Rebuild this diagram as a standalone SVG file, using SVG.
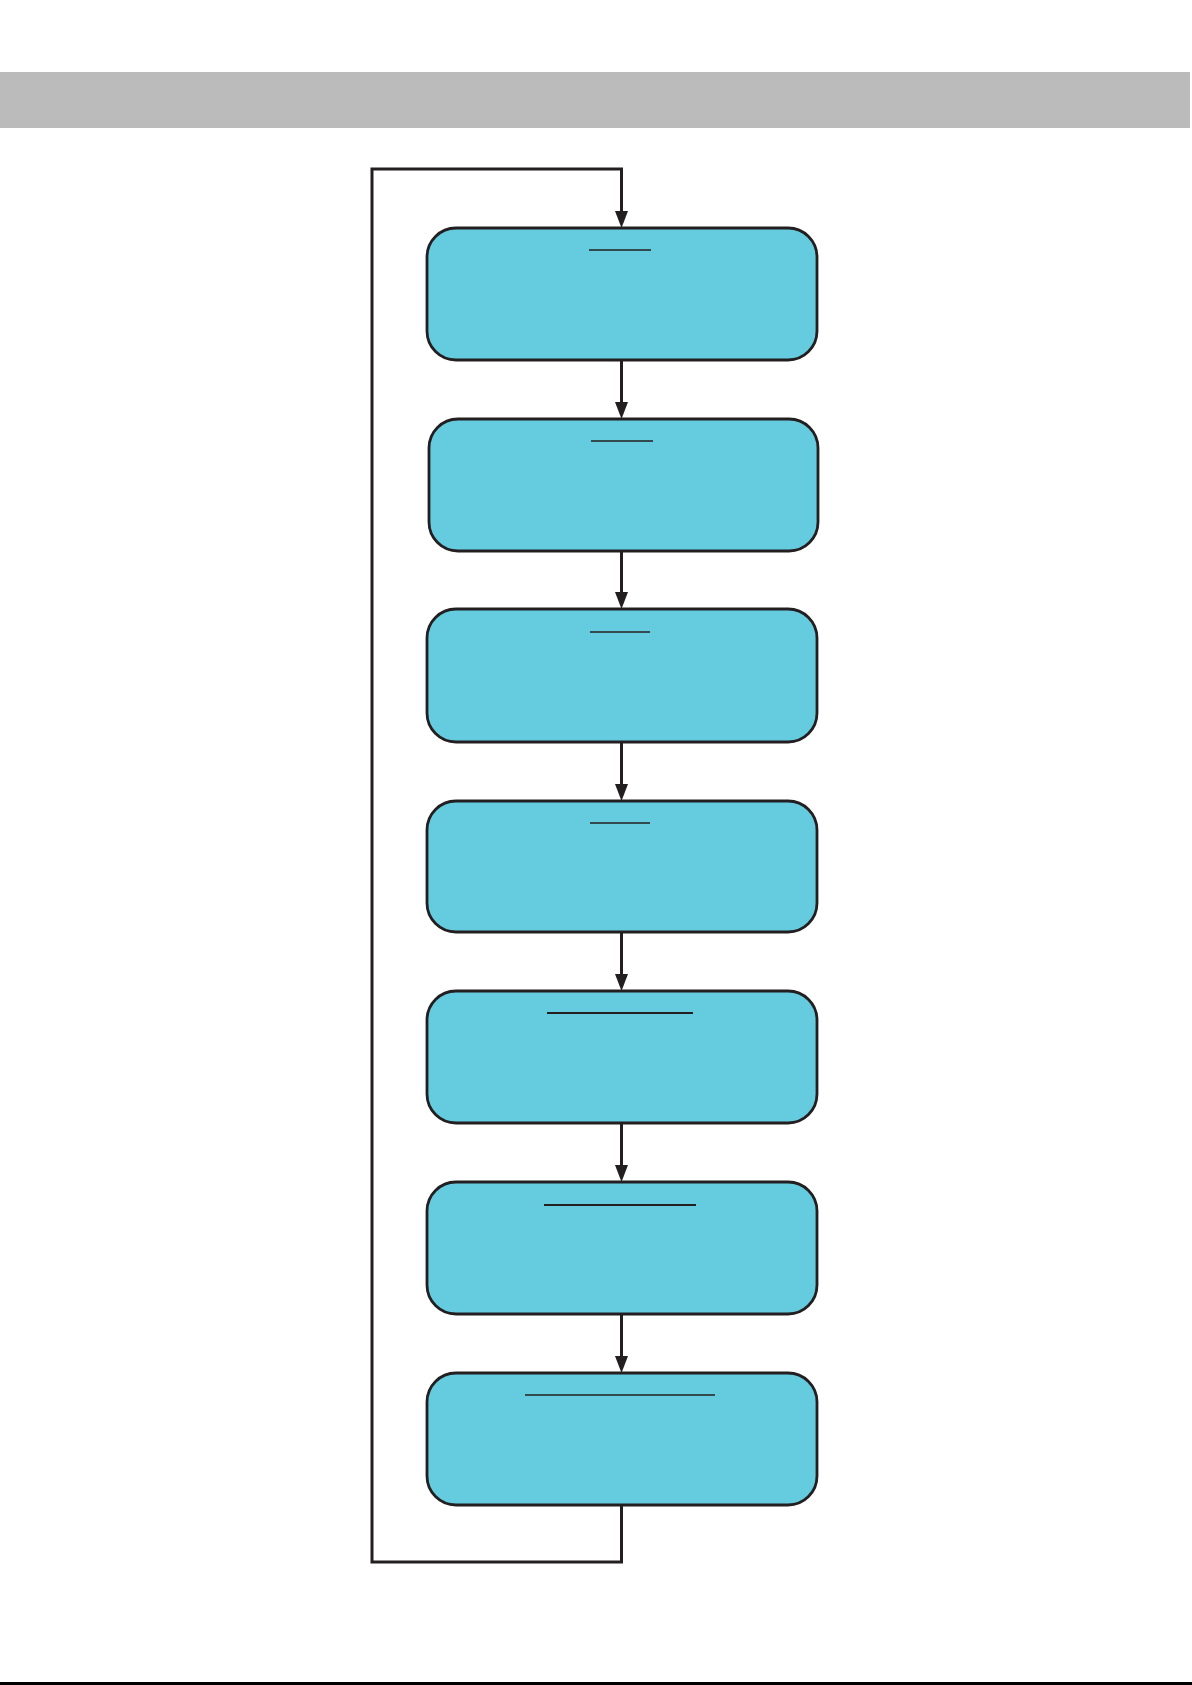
<svg xmlns="http://www.w3.org/2000/svg" width="1192" height="1685" viewBox="0 0 1192 1685">
<style>
.box{fill:#65cbdf;stroke:#231f20;stroke-width:2.8}
.ul{stroke:#231f20;stroke-width:1.4}
.ul2{stroke:#231f20;stroke-width:2}
.conn{fill:none;stroke:#231f20;stroke-width:3}
.head{fill:#231f20}
</style>
<defs>
<path id="ah" d="M-6.5,-17 L6.5,-17 L0,0 Z"/>
</defs>
<rect x="0" y="72" width="1190" height="56" fill="#bbbbbb"/>
<rect x="0" y="1682" width="1192" height="3" fill="#000000"/>
<g id="connectors">
<path class="conn" d="M621.5,1505 V1562 H372 V169 H621.5 V212"/>
<use href="#ah" class="head" x="621.5" y="228"/>
<line class="conn" x1="621.5" y1="360" x2="621.5" y2="404"/>
<use href="#ah" class="head" x="621.5" y="419"/>
<line class="conn" x1="621.5" y1="551" x2="621.5" y2="594"/>
<use href="#ah" class="head" x="621.5" y="609"/>
<line class="conn" x1="621.5" y1="742" x2="621.5" y2="786"/>
<use href="#ah" class="head" x="621.5" y="801"/>
<line class="conn" x1="621.5" y1="932" x2="621.5" y2="976"/>
<use href="#ah" class="head" x="621.5" y="991"/>
<line class="conn" x1="621.5" y1="1123" x2="621.5" y2="1167"/>
<use href="#ah" class="head" x="621.5" y="1182"/>
<line class="conn" x1="621.5" y1="1314" x2="621.5" y2="1358"/>
<use href="#ah" class="head" x="621.5" y="1373"/>
</g>
<g id="node1"><rect class="box" x="427" y="228" width="390" height="132" rx="29"/><line class="ul" x1="589" y1="250" x2="651" y2="250"/></g>
<g id="node2"><rect class="box" x="429" y="419" width="389" height="132" rx="29"/><line class="ul" x1="591" y1="441" x2="653" y2="441"/></g>
<g id="node3"><rect class="box" x="427" y="609" width="390" height="133" rx="29"/><line class="ul" x1="590" y1="632" x2="650" y2="632"/></g>
<g id="node4"><rect class="box" x="427" y="801" width="390" height="131" rx="29"/><line class="ul" x1="590" y1="823" x2="650" y2="823"/></g>
<g id="node5"><rect class="box" x="427" y="991" width="390" height="132" rx="29"/><line class="ul2" x1="547" y1="1013" x2="693" y2="1013"/></g>
<g id="node6"><rect class="box" x="427" y="1182" width="390" height="132" rx="29"/><line class="ul2" x1="544" y1="1205" x2="696" y2="1205"/></g>
<g id="node7"><rect class="box" x="427" y="1373" width="390" height="132" rx="29"/><line class="ul" x1="525" y1="1395" x2="715" y2="1395"/></g>
</svg>
